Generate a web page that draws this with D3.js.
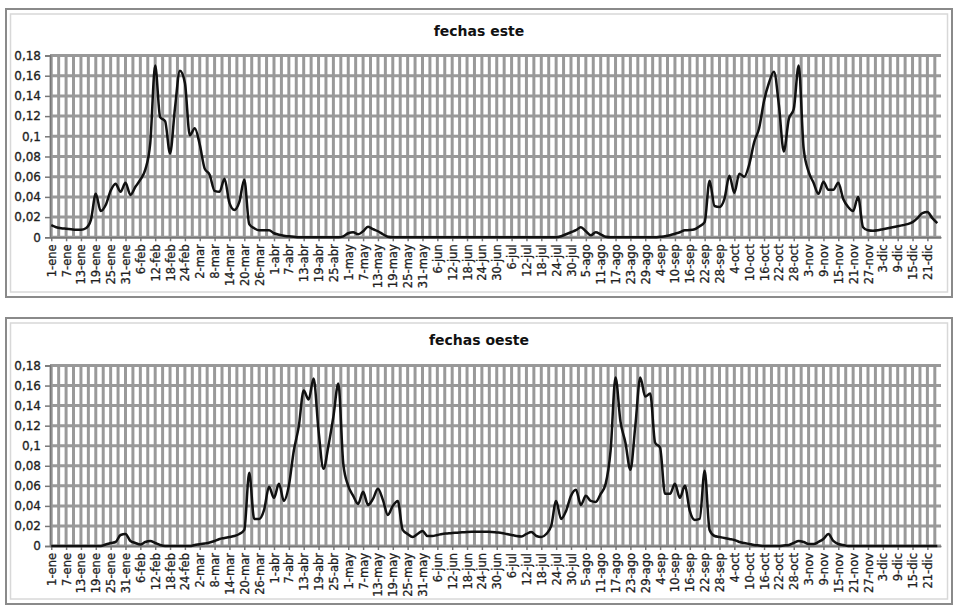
<!DOCTYPE html>
<html>
  <head>
    <title>fechas este / oeste</title>
    <script src="https://d3js.org/d3.v7.min.js"></script>
    <style>
      body { margin: 0; background: white; }
      text { font-family: "DejaVu Sans", Verdana, sans-serif; }
      .tick text { fill: #1e1e1e; stroke: #1e1e1e; stroke-width: 0.3px; }
      .title { font-size: 14px; font-weight: bold; fill: #111; }
    </style>
  </head>
  <body>
    <script>
      // tick labels on the date axis (every 6th day) and on the value axis
      let tickLabels = ["1-ene","7-ene","13-ene","19-ene","25-ene","31-ene","6-feb","12-feb","18-feb","24-feb",
        "2-mar","8-mar","14-mar","20-mar","26-mar","1-abr","7-abr","13-abr","19-abr","25-abr",
        "1-may","7-may","13-may","19-may","25-may","31-may","6-jun","12-jun","18-jun","24-jun",
        "30-jun","6-jul","12-jul","18-jul","24-jul","30-jul","5-ago","11-ago","17-ago","23-ago",
        "29-ago","4-sep","10-sep","16-sep","22-sep","28-sep","4-oct","10-oct","16-oct","22-oct",
        "28-oct","3-nov","9-nov","15-nov","21-nov","27-nov","3-dic","9-dic","15-dic","21-dic"];
      let yTicks = [0, 0.02, 0.04, 0.06, 0.08, 0.1, 0.12, 0.14, 0.16, 0.18];
      let yTickLabels = ["0","0,02","0,04","0,06","0,08","0,1","0,12","0,14","0,16","0,18"];

      // number of days on the axis (1-ene .. 26-dic), values read every 2nd day
      let nDays = 360;
      let sampleStep = 2;

      let esteValues = [
        0.012,0.010,0.009,0.0085,0.008,0.0075,0.0075,0.009,0.017,0.043,
        0.026,0.032,0.046,0.053,0.045,0.054,0.042,0.050,0.057,0.067,
        0.093,0.170,0.119,0.115,0.083,0.128,0.165,0.153,0.101,0.108,
        0.092,0.068,0.062,0.046,0.045,0.058,0.034,0.027,0.035,0.057,
        0.013,0.009,0.007,0.007,0.007,0.004,0.0025,0.0015,0.001,0.0005,
        0,0,0,0,0,0,0,0,0,0.001,
        0.004,0.005,0.003,0.006,0.0105,0.008,0.006,0.003,0.0005,0,
        0,0,0,0,0,0,0,0,0,0,
        0,0,0,0,0,0,0,0,0,0,
        0,0,0,0,0,0,0,0,0,0,
        0,0,0,0.001,0.003,0.005,0.007,0.010,0.006,0.002,
        0.005,0.003,0.0005,0,0,0,0,0,0,0,
        0,0,0,0.0005,0.001,0.002,0.0035,0.005,0.007,0.0072,
        0.008,0.011,0.015,0.056,0.031,0.030,0.038,0.061,0.044,0.063,
        0.060,0.072,0.094,0.108,0.135,0.153,0.164,0.131,0.085,0.117,
        0.127,0.170,0.088,0.065,0.054,0.043,0.055,0.047,0.047,0.054,
        0.038,0.030,0.026,0.040,0.010,0.007,0.0065,0.007,0.008,0.009,
        0.010,0.011,0.012,0.013,0.015,0.019,0.024,0.025,0.019,0.014
      ];

      let oesteValues = [
        0,0,0,0,0,0,0,0,0,0,
        0,0.0015,0.003,0.004,0.011,0.012,0.005,0.003,0.0015,0.004,
        0.005,0.003,0.001,0,0,0,0,0,0,0.001,
        0.0017,0.0025,0.0035,0.005,0.007,0.008,0.009,0.010,0.012,0.016,
        0.073,0.027,0.027,0.036,0.059,0.048,0.062,0.045,0.060,0.095,
        0.119,0.155,0.146,0.167,0.115,0.077,0.100,0.129,0.162,0.082,
        0.060,0.050,0.042,0.054,0.041,0.047,0.057,0.046,0.031,0.040,
        0.045,0.016,0.012,0.009,0.012,0.015,0.010,0.010,0.011,0.012,
        0.0125,0.013,0.0133,0.0137,0.014,0.0142,0.0143,0.0143,0.0142,0.014,
        0.0135,0.013,0.012,0.011,0.010,0.0095,0.012,0.014,0.010,0.009,
        0.012,0.020,0.045,0.027,0.035,0.050,0.056,0.041,0.050,0.045,
        0.044,0.052,0.062,0.095,0.168,0.124,0.103,0.076,0.120,0.168,
        0.149,0.152,0.103,0.098,0.052,0.052,0.062,0.048,0.060,0.035,
        0.026,0.027,0.075,0.016,0.010,0.009,0.008,0.007,0.006,0.004,
        0.003,0.002,0.001,0.0005,0,0,0,0,0.0005,0.001,
        0.003,0.005,0.004,0.002,0.002,0.004,0.007,0.012,0.005,0.002,
        0.001,0,0,0,0,0,0,0,0,0,
        0,0,0,0,0,0,0,0,0,0
      ];

      let width = 954, height = 606;
      let svg = d3.select("body").append("svg")
                  .attr("width", width).attr("height", height);

      let x = d3.scaleLinear().domain([-0.5, nDays - 0.5]).range([50, 941]);
      let gridDays = d3.range(0, nDays, 3);
      let labelDays = d3.range(0, nDays, 6);

      let panels = [
        {title: "fechas este", values: esteValues, frameTop: 9, frameBottom: 297, titleY: 36, plotTop: 55.5, plotBottom: 237.3},
        {title: "fechas oeste", values: oesteValues, frameTop: 318, frameBottom: 604, titleY: 345, plotTop: 365.5, plotBottom: 546}
      ];

      panels.forEach(function(p) {
        let g = svg.append("g");

        // chart frame
        g.append("rect").attr("x", 6).attr("y", p.frameTop)
          .attr("width", 946).attr("height", p.frameBottom - p.frameTop)
          .attr("fill", "white").attr("stroke", "#8a8a8a").attr("stroke-width", 2);
        g.append("rect").attr("x", 10.5).attr("y", p.frameTop + 5)
          .attr("width", 937).attr("height", p.frameBottom - p.frameTop - 10)
          .attr("fill", "none").attr("stroke", "#d8d8d8").attr("stroke-width", 1.5);

        g.append("text").attr("class", "title")
          .attr("x", 479).attr("y", p.titleY)
          .attr("text-anchor", "middle").text(p.title);

        let y = d3.scaleLinear().domain([0, 0.18]).range([p.plotBottom, p.plotTop]);

        // grid
        g.append("g").selectAll("line").data(gridDays).join("line")
          .attr("x1", d => x(d)).attr("x2", d => x(d))
          .attr("y1", p.plotTop).attr("y2", p.plotBottom)
          .attr("stroke", "#999").attr("stroke-width", 3);
        g.append("g").selectAll("line").data(yTicks).join("line")
          .attr("x1", 50).attr("x2", 941)
          .attr("y1", d => y(d)).attr("y2", d => y(d))
          .attr("stroke", "#999").attr("stroke-width", 3);

        // axes
        let yAxis = g.append("g").attr("transform", "translate(50,0)")
          .call(d3.axisLeft(y).tickValues(yTicks).tickSize(5).tickPadding(4)
            .tickFormat((d, i) => yTickLabels[i]));
        yAxis.selectAll("text").style("font-size", "12px");
        yAxis.selectAll("line, path").attr("stroke", "#777").attr("stroke-width", 1.5);

        let xAxis = g.append("g").attr("transform", "translate(0," + p.plotBottom + ")")
          .call(d3.axisBottom(x).tickValues(labelDays).tickSize(4).tickSizeOuter(0)
            .tickFormat((d, i) => tickLabels[i]));
        xAxis.selectAll("line, path").attr("stroke", "#777").attr("stroke-width", 1.5);
        xAxis.selectAll("text")
          .style("font-size", "11.5px")
          .attr("text-anchor", "end")
          .attr("transform", "rotate(-90)")
          .attr("x", -7).attr("y", 0).attr("dy", "0.35em");

        // series line
        let line = d3.line()
          .x((d, i) => x(i * sampleStep))
          .y(d => y(d))
          .curve(d3.curveMonotoneX);
        g.append("path").datum(p.values)
          .attr("d", line)
          .attr("fill", "none").attr("stroke", "#111").attr("stroke-width", 2.5)
          .attr("stroke-linejoin", "round");
      });
    </script>
  </body>
</html>
